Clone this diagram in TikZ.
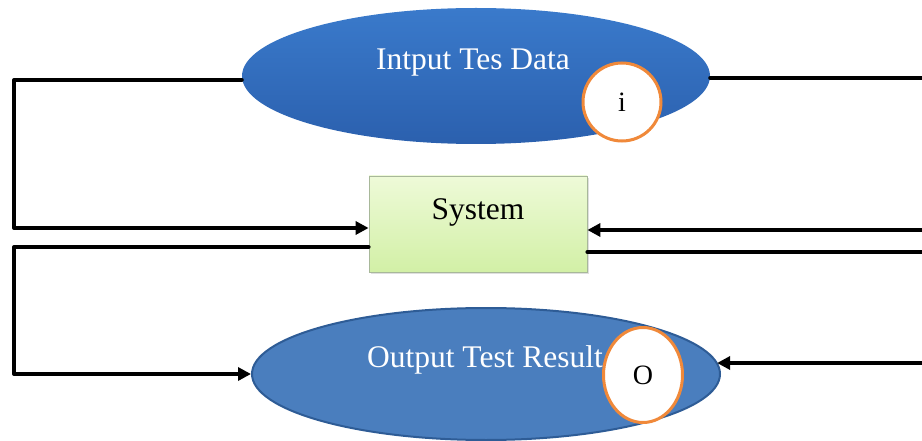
\documentclass[tikz,border=0pt]{standalone}
\usepackage{fontspec}
\setmainfont{Liberation Serif}
\usetikzlibrary{shapes.geometric,arrows.meta,shadows}
\definecolor{topblue}{HTML}{3A7ACB}
\definecolor{topblueb}{HTML}{2B60AE}
\definecolor{botblue}{HTML}{4A7EBE}
\definecolor{botedge}{HTML}{2E5C96}
\definecolor{boxtop}{HTML}{EEFAD8}
\definecolor{boxbot}{HTML}{D2F0A6}
\definecolor{boxedge}{HTML}{A8B89A}
\definecolor{ringorange}{HTML}{F0893A}
\tikzset{
  bigtext/.style={font=\fontsize{31.5}{36}\selectfont},
  conn/.style={line width=4pt, black, line cap=round, line join=round},
  arr/.style={conn, -{Triangle[length=13pt,width=13pt]}},
  ring/.style={draw=ringorange, line width=3pt, fill=white, inner sep=0pt,
    font=\fontsize{28}{32}\selectfont}
}
\begin{document}
\begin{tikzpicture}[x=1pt,y=-1pt]
\useasboundingbox (0,0) rectangle (922,441);
% top ellipse
\node[ellipse, minimum width=468pt, minimum height=136pt, inner sep=0pt,
  top color=topblue, bottom color=topblueb, draw=none] (in) at (476,76) {};
\node[bigtext, text=white] (intext) at (473,63) {Intput Tes Data};
\node[ring, circle, minimum size=78pt] (ci) at (622,102) {i};
% system box
\node[rectangle, minimum width=218pt, minimum height=96pt, top color=boxtop,
  bottom color=boxbot, draw=boxedge, line width=0.8pt,
  drop shadow={opacity=0.25, shadow xshift=2pt, shadow yshift=-2pt}] (sys) at (478,224) {};
\node[bigtext] (systext) at (478,212) {System};
% bottom ellipse
\node[ellipse, minimum width=468pt, minimum height=132pt, inner sep=0pt,
  fill=botblue, draw=botedge, line width=2pt] (out) at (486,374) {};
\node[bigtext, text=white] (outtext) at (485,360) {Output Test Result};
\node[ring, ellipse, minimum width=79pt, minimum height=95pt] (co) at (643,375) {O};
% connector corners
\coordinate (l1) at (14,80);
\coordinate (l2) at (14,228);
\coordinate (l3) at (14,247);
\coordinate (l4) at (14,374);
\coordinate (r1) at (922,78);
\coordinate (r2) at (922,230);
\coordinate (r3) at (922,252);
\coordinate (r4) at (922,363);
% left connectors
\draw[arr] ([yshift=-4pt]in.west) -- (l1) -- (l2) -- (sys.west |- l2);
\draw[arr] (sys.west |- l3) -- (l3) -- (l4) -- (l4 -| out.west);
% right connectors
\draw[conn] ([yshift=-2pt]in.east) -- (r1);
\draw[arr] (r2) -- (sys.east |- r2);
\draw[conn] (sys.east |- r3) -- (r3);
\draw[arr] (r4) -- (r4 -| out.3);
\end{tikzpicture}
\end{document}
